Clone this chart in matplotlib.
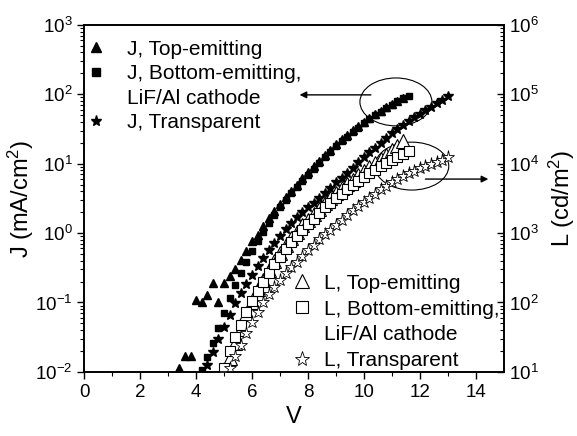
import numpy as np
import matplotlib
matplotlib.use("Agg")
import matplotlib.pyplot as plt
from matplotlib.patches import Ellipse
from matplotlib.lines import Line2D

plt.rcParams.update({
    'font.family': 'Liberation Sans',
    'mathtext.fontset': 'custom',
    'mathtext.rm': 'Liberation Sans',
    'mathtext.it': 'Liberation Sans:italic',
    'font.size': 13,
})

# J (mA/cm2), left axis
v_j_top = [3.4, 3.6, 3.8, 4.0, 4.2, 4.4, 4.6, 4.8, 5.0, 5.2, 5.4, 5.6, 5.8, 6.0, 6.2, 6.4, 6.6, 6.8, 7.0, 7.2, 7.4,
           7.6, 7.8, 8.0, 8.2, 8.4, 8.6, 8.8, 9.0, 9.2, 9.4, 9.6, 9.8, 10.0, 10.2, 10.4, 10.6, 10.8, 11.0, 11.2, 11.4]
j_top = [0.0115, 0.017, 0.017, 0.11, 0.102, 0.129, 0.19, 0.102, 0.19, 0.24, 0.30, 0.41, 0.56, 0.76, 0.93, 1.26,
         1.66, 2.09, 2.63, 3.31, 4.07, 5.01, 6.17, 7.59, 9.12, 11.0, 13.2, 15.8, 19.1, 22.4, 26.3, 30.2, 34.7,
         39.8, 45.7, 51.3, 57.5, 64.6, 72.4, 79.4, 87.1]

v_j_bot = [4.2, 4.4, 4.6, 4.8, 5.0, 5.2, 5.4, 5.6, 5.8, 6.0, 6.2, 6.4, 6.6, 6.8, 7.0, 7.2, 7.4, 7.6, 7.8, 8.0,
           8.2, 8.4, 8.6, 8.8, 9.0, 9.2, 9.4, 9.6, 9.8, 10.0, 10.2, 10.4, 10.6, 10.8, 11.0, 11.2, 11.4, 11.6]
j_bot = [0.0105, 0.0162, 0.0263, 0.0427, 0.0708, 0.117, 0.178, 0.269, 0.389, 0.55, 0.76, 1.05, 1.38, 1.82,
         2.34, 2.95, 3.72, 4.57, 5.62, 6.92, 8.51, 10.2, 12.3, 14.8, 17.8, 20.9, 24.5, 28.8, 33.1, 38.0, 43.7,
         50.1, 56.2, 63.1, 70.8, 79.4, 87.1, 95.5]

v_j_tr = [4.4, 4.6, 4.8, 5.0, 5.2, 5.4, 5.6, 5.8, 6.0, 6.2, 6.4, 6.6, 6.8, 7.0, 7.2, 7.4, 7.6, 7.8, 8.0, 8.2,
          8.4, 8.6, 8.8, 9.0, 9.2, 9.4, 9.6, 9.8, 10.0, 10.2, 10.4, 10.6, 10.8, 11.0, 11.2, 11.4, 11.6, 11.8,
          12.0, 12.2, 12.4, 12.6, 12.8, 13.0]
j_tr = [0.0126, 0.0195, 0.0302, 0.0447, 0.066, 0.098, 0.135, 0.182, 0.251, 0.331, 0.437, 0.575, 0.724, 0.912,
        1.15, 1.41, 1.70, 2.00, 2.34, 2.75, 3.24, 3.80, 4.47, 5.37, 6.31, 7.41, 8.71, 10.5, 12.3, 14.5, 17.0,
        20.0, 23.4, 27.5, 31.6, 36.3, 41.7, 46.8, 52.5, 58.9, 66.1, 74.1, 83.2, 93.3]

# L (cd/m2), right axis
v_l_top = [5.0, 5.2, 5.4, 5.6, 5.8, 6.0, 6.2, 6.4, 6.6, 6.8, 7.0, 7.2, 7.4, 7.6, 7.8, 8.0, 8.2, 8.4, 8.6, 8.8,
           9.0, 9.2, 9.4, 9.6, 9.8, 10.0, 10.2, 10.4, 10.6, 10.8, 11.0, 11.2, 11.4]
l_top = [10.5, 15.8, 26.3, 41.7, 67.6, 102, 155, 214, 295, 398, 525, 676, 851, 1047, 1288, 1549, 1862, 2239,
         2692, 3236, 3802, 4467, 5129, 5888, 6761, 7762, 8913, 10230, 11750, 13490, 15490, 18200, 21380]

v_l_bot = [5.0, 5.2, 5.4, 5.6, 5.8, 6.0, 6.2, 6.4, 6.6, 6.8, 7.0, 7.2, 7.4, 7.6, 7.8, 8.0, 8.2, 8.4, 8.6, 8.8,
           9.0, 9.2, 9.4, 9.6, 9.8, 10.0, 10.2, 10.4, 10.6, 10.8, 11.0, 11.2, 11.4, 11.6]
l_bot = [11.5, 20.0, 31.6, 47.9, 72.4, 105, 148, 200, 269, 355, 457, 589, 741, 912, 1122, 1349, 1622, 1950,
         2344, 2754, 3236, 3715, 4266, 4898, 5623, 6457, 7244, 8128, 9120, 10230, 11480, 12590, 13800, 15140]

v_l_tr = [5.2, 5.4, 5.6, 5.8, 6.0, 6.2, 6.4, 6.6, 6.8, 7.0, 7.2, 7.4, 7.6, 7.8, 8.0, 8.2, 8.4, 8.6, 8.8, 9.0,
          9.2, 9.4, 9.6, 9.8, 10.0, 10.2, 10.4, 10.6, 10.8, 11.0, 11.2, 11.4, 11.6, 11.8, 12.0, 12.2, 12.4,
          12.6, 12.8, 13.0]
l_tr = [11.5, 17.0, 24.5, 36.3, 52.5, 74.1, 100, 132, 170, 214, 263, 324, 389, 468, 562, 676, 813, 955, 1122,
        1318, 1549, 1820, 2138, 2455, 2818, 3236, 3715, 4266, 4786, 5370, 6026, 6607, 7244, 7943, 8710, 9333,
        10000, 10720, 11480, 12300]

fig = plt.figure(figsize=(5.77, 4.36), dpi=100)
ax = fig.add_axes([0.146, 0.147, 0.727, 0.796])
ax2 = ax.twinx()

ax.plot(v_j_top, j_top, ls='none', marker='^', ms=6, color='k')
ax.plot(v_j_bot, j_bot, ls='none', marker='s', ms=5, color='k')
ax.plot(v_j_tr, j_tr, ls='none', marker='*', ms=7, color='k')

ax2.plot(v_l_top, l_top, ls='none', marker='^', ms=9.5, mfc='white', mec='k', mew=0.8)
ax2.plot(v_l_bot, l_bot, ls='none', marker='s', ms=7.5, mfc='white', mec='k', mew=0.8)
ax2.plot(v_l_tr, l_tr, ls='none', marker='*', ms=9.5, mfc='white', mec='k', mew=0.6)

ax.set_xlim(0, 15)
ax.set_yscale('log')
ax.set_ylim(1e-2, 1e3)
ax2.set_yscale('log')
ax2.set_ylim(1e1, 1e6)
ax.set_xticks([0, 2, 4, 6, 8, 10, 12, 14])
ax.set_xticks(np.arange(1, 15, 2), minor=True)

ax.tick_params(axis='both', which='both', direction='out', top=False, right=False, labelsize=13.5)
ax.tick_params(which='major', length=5, width=1)
ax.tick_params(which='minor', length=3, width=0.8)
ax2.tick_params(axis='y', which='both', direction='in', labelsize=13.5)
ax2.tick_params(which='major', length=5, width=1)
ax2.tick_params(which='minor', length=3, width=0.8)
for a in (ax, ax2):
    for s in a.spines.values():
        s.set_linewidth(1.2)

ax.set_xlabel('V', fontsize=17, labelpad=4)
ax.set_ylabel('J (mA/cm$^2$)', fontsize=17, labelpad=-1)
ax2.set_ylabel('L (cd/m$^2$)', fontsize=17, labelpad=6)

# ellipses and arrows
ax.add_patch(Ellipse((0.743, 0.778), 0.1716, 0.138, transform=ax.transAxes, fill=False, lw=0.8, color='k'))
ax.add_patch(Ellipse((0.781, 0.593), 0.176, 0.138, transform=ax.transAxes, fill=False, lw=0.8, color='k'))
ax.annotate('', xy=(7.7, 98), xytext=(10.25, 98),
            arrowprops=dict(arrowstyle='-|>', color='k', lw=1, mutation_scale=10, shrinkA=0, shrinkB=0))
ax2.annotate('', xy=(14.45, 6000), xytext=(12.2, 6000),
             arrowprops=dict(arrowstyle='-|>', color='k', lw=1, mutation_scale=10, shrinkA=0, shrinkB=0))

# legends
h1 = [Line2D([], [], ls='none', marker='^', ms=7, color='k'),
      Line2D([], [], ls='none', marker='s', ms=5.5, color='k'),
      Line2D([], [], ls='none', marker=''),
      Line2D([], [], ls='none', marker='*', ms=8, color='k')]
lab1 = ['J, Top-emitting', 'J, Bottom-emitting,', 'LiF/Al cathode', 'J, Transparent']
leg1 = ax2.legend(h1, lab1, loc='upper left', bbox_to_anchor=(0.004, 0.957), borderpad=0, borderaxespad=0,
                  handlelength=1.0, handletextpad=0.95, labelspacing=0.26, frameon=False, fontsize=15)
ax2.add_artist(leg1)

h2 = [Line2D([], [], ls='none', marker='^', ms=10, mfc='white', mec='k', mew=0.8),
      Line2D([], [], ls='none', marker='s', ms=8, mfc='white', mec='k', mew=0.8),
      Line2D([], [], ls='none', marker=''),
      Line2D([], [], ls='none', marker='*', ms=11, mfc='white', mec='k', mew=0.6)]
lab2 = ['L, Top-emitting', 'L, Bottom-emitting,', 'LiF/Al cathode', 'L, Transparent']
ax2.legend(h2, lab2, loc='upper left', bbox_to_anchor=(0.494, 0.283), borderpad=0, borderaxespad=0,
           handlelength=1.0, handletextpad=0.55, labelspacing=0.33, frameon=False, fontsize=15)

fig.savefig('out.png', dpi=100)
